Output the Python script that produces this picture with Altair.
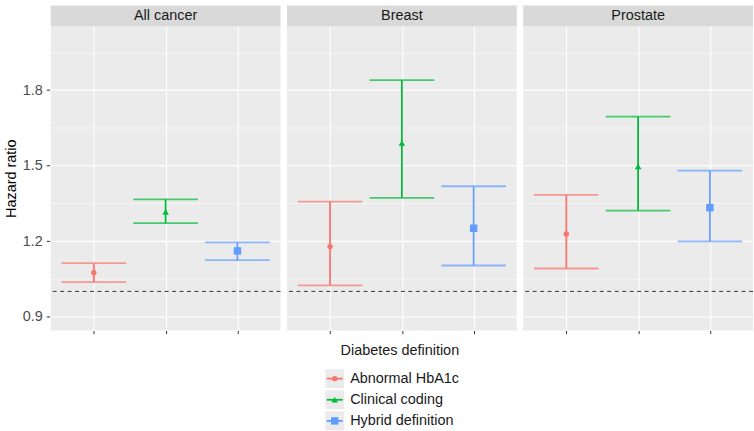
import altair as alt
import pandas as pd

# Panels and exposure definitions
cancers = ["All cancer", "Breast", "Prostate"]
definitions = ["Abnormal HbA1c", "Clinical coding", "Hybrid definition"]

# Hazard ratio with 95% CI, one value per definition (same order as above)
hr_all = [1.074, 1.316, 1.161]
lo_all = [1.037, 1.271, 1.124]
hi_all = [1.112, 1.366, 1.195]

hr_breast = [1.178, 1.590, 1.251]
lo_breast = [1.024, 1.372, 1.103]
hi_breast = [1.357, 1.840, 1.418]

hr_prostate = [1.228, 1.497, 1.333]
lo_prostate = [1.091, 1.321, 1.199]
hi_prostate = [1.384, 1.695, 1.480]

# Axis settings
major_breaks = [0.9, 1.2, 1.5, 1.8]
minor_breaks = [1.05, 1.35, 1.65, 1.95]
y_limits = [0.845, 2.055]
reference_hr = 1.0

colors = ["#F8766D", "#00BA38", "#619CFF"]
shapes = ["circle", "triangle-up", "square"]
symbol_sizes = [30, 56, 30]

y_title = "Hazard ratio"
x_title = "Diabetes definition"

FONT = "Liberation Sans, Arial, Helvetica, sans-serif"
PANEL_W, PANEL_H = 231, 306
STRIP_H = 20.7
LINE_W = 1.8

rows = []
for cancer, hrs, los, his in [
    (cancers[0], hr_all, lo_all, hi_all),
    (cancers[1], hr_breast, lo_breast, hi_breast),
    (cancers[2], hr_prostate, lo_prostate, hi_prostate),
]:
    for d, h, lo, hi in zip(definitions, hrs, los, his):
        rows.append({"cancer": cancer, "definition": d, "hr": h, "lo": lo, "hi": hi})
df = pd.DataFrame(rows)

color_scale = alt.Scale(domain=definitions, range=colors)
shape_scale = alt.Scale(domain=definitions, range=shapes)
size_scale = alt.Scale(domain=definitions, range=symbol_sizes)

is_major = f"indexof({major_breaks}, datum.value) >= 0"
y_axis = alt.Axis(
    values=sorted(major_breaks + minor_breaks),
    title=y_title,
    labelExpr=f"{is_major} ? format(datum.value, '.1f') : ''",
    domain=False,
    grid=True,
    gridColor="white",
    gridWidth={"condition": {"test": is_major, "value": 1.1}, "value": 0.55},
    tickOpacity={"condition": {"test": is_major, "value": 1}, "value": 0},
    tickSize=3.5,
    tickColor="#333333",
    labelPadding=4,
    labelFontSize=14.5,
    labelColor="#4D4D4D",
    titleFontSize=14.5,
    titleFontWeight="normal",
    titleColor="#000000",
    titlePadding=4,
)
y_scale = alt.Scale(domain=y_limits, nice=False, zero=False)

x_enc = alt.X(
    "definition:N",
    sort=definitions,
    scale=alt.Scale(type="point", padding=0.6),
    axis=alt.Axis(
        title=None,
        labels=False,
        domain=False,
        ticks=True,
        tickSize=3.5,
        tickColor="#333333",
        grid=True,
        gridColor="white",
        gridWidth=1.1,
    ),
)
color_enc = alt.Color("definition:N", scale=color_scale, legend=None)

base = alt.Chart(df)
one_per_panel = alt.datum.definition == definitions[0]

ref_rule = base.transform_filter(one_per_panel).mark_rule(
    color="#333333", strokeWidth=1, strokeDash=[4, 3.5]
).encode(y=alt.Y(datum=reference_hr, scale=y_scale, axis=y_axis))

whisker = base.mark_rule(strokeWidth=LINE_W).encode(
    x=x_enc,
    y=alt.Y("lo:Q", scale=y_scale, axis=y_axis),
    y2="hi:Q",
    color=color_enc,
)
cap_lo = base.mark_tick(size=65, thickness=LINE_W).encode(
    x=x_enc, y=alt.Y("lo:Q", scale=y_scale, axis=y_axis), color=color_enc
)
cap_hi = base.mark_tick(size=65, thickness=LINE_W).encode(
    x=x_enc, y=alt.Y("hi:Q", scale=y_scale, axis=y_axis), color=color_enc
)
points = base.mark_point(filled=True, opacity=1).encode(
    x=x_enc,
    y=alt.Y("hr:Q", scale=y_scale, axis=y_axis),
    color=color_enc,
    shape=alt.Shape("definition:N", scale=shape_scale, legend=None),
    size=alt.Size("definition:N", scale=size_scale, legend=None),
)

# Grey facet strip with the panel name
strip = base.transform_filter(one_per_panel).mark_rect(color="#D9D9D9").encode(
    x=alt.value(0), x2=alt.value(PANEL_W), y=alt.value(-STRIP_H), y2=alt.value(0)
)
strip_text = base.transform_filter(one_per_panel).mark_text(
    fontSize=14.5, color="#1A1A1A", baseline="middle", align="center", font=FONT
).encode(text="cancer:N", x=alt.value(PANEL_W / 2), y=alt.value(-STRIP_H / 2))

panel = alt.layer(ref_rule, whisker, cap_lo, cap_hi, points, strip, strip_text).properties(
    width=PANEL_W, height=PANEL_H
)
panels = panel.facet(
    column=alt.Column(
        "cancer:N",
        sort=cancers,
        header=alt.Header(labels=False, title=None, labelPadding=0, titlePadding=0),
    ),
    spacing=4.5,
)

# Key block below the panels (x positions relative to the first panel's left edge)
key_df = pd.DataFrame({"definition": definitions})
key_y = alt.Y(
    "definition:N",
    sort=definitions,
    scale=alt.Scale(type="point", domain=definitions, range=[44.5, 87], padding=0),
    axis=None,
)
key_base = alt.Chart(key_df)
key_bg = key_base.mark_square(size=361, color="#EBEBEB", opacity=1, filled=True).encode(
    x=alt.value(285.5), y=key_y
)
key_line = key_base.mark_rule(strokeWidth=LINE_W).encode(
    x=alt.value(277.5), x2=alt.value(293.5), y=key_y, color=color_enc
)
key_pt = key_base.mark_point(filled=True, opacity=1).encode(
    x=alt.value(285.5),
    y=key_y,
    color=color_enc,
    shape=alt.Shape("definition:N", scale=shape_scale, legend=None),
    size=alt.Size("definition:N", scale=size_scale, legend=None),
)
key_text = key_base.mark_text(
    align="left", baseline="middle", fontSize=14.5, color="#1A1A1A", font=FONT
).encode(x=alt.value(301), y=key_y, text="definition:N")
x_title_mark = alt.Chart(pd.DataFrame({"t": [x_title]})).mark_text(
    align="center", baseline="middle", fontSize=14.5, color="#1A1A1A", font=FONT
).encode(text="t:N", x=alt.value(351), y=alt.value(16.5))

key_chart = alt.layer(key_bg, key_line, key_pt, key_text, x_title_mark).properties(
    width=700, height=96, view=alt.ViewBackground(fill="white", stroke=None)
)

chart = (
    alt.vconcat(panels, key_chart, spacing=0)
    .properties(padding={"left": 3, "top": 4, "right": 0, "bottom": 0}, background="white")
    .configure(font=FONT)
    .configure_view(fill="#EBEBEB", stroke=None)
)

chart.save("out.html", embed_options={"renderer": "svg", "actions": False})
